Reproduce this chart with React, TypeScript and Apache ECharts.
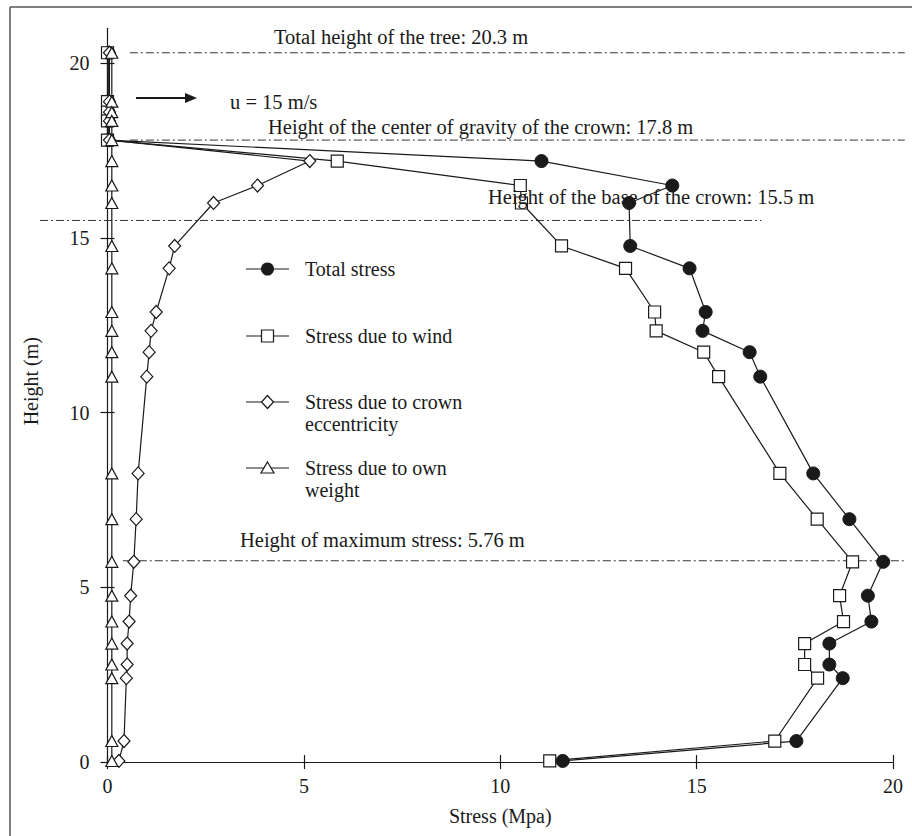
import { useEffect, useRef } from "react";
import * as echarts from "echarts";

// Heights (m) along the stem at which stresses were evaluated
const heights = [20.3, 18.9, 18.6, 18.35, 17.8, 17.2, 16.5, 16.0, 14.77, 14.13, 12.88, 12.34, 11.73, 11.03, 8.26, 6.95, 5.73, 4.76, 4.02, 3.39, 2.79, 2.4, 0.6, 0.03];

// Stress values (MPa) at each height
const totalStress = [0.02, 0.02, 0.02, 0.02, 0.02, 11.05, 14.38, 13.28, 13.31, 14.82, 15.23, 15.15, 16.35, 16.62, 17.97, 18.89, 19.75, 19.36, 19.45, 18.38, 18.38, 18.72, 17.54, 11.59];
const windStress = [0.0, 0.0, 0.0, 0.0, 0.0, 5.85, 10.51, 10.54, 11.56, 13.19, 13.93, 13.97, 15.18, 15.56, 17.12, 18.07, 18.97, 18.64, 18.74, 17.75, 17.75, 18.08, 16.99, 11.26];
const eccentricityStress = [0.05, 0.05, 0.05, 0.05, 0.05, 5.15, 3.82, 2.7, 1.71, 1.57, 1.24, 1.11, 1.06, 1.0, 0.78, 0.73, 0.67, 0.59, 0.55, 0.5, 0.5, 0.48, 0.42, 0.29];
const ownWeightStress = [0.11, 0.11, 0.11, 0.11, 0.11, 0.11, 0.11, 0.11, 0.11, 0.11, 0.11, 0.11, 0.11, 0.11, 0.11, 0.11, 0.11, 0.11, 0.11, 0.11, 0.11, 0.11, 0.11, 0.11];

const seriesNames = [
  "Total stress",
  "Stress due to wind",
  "Stress due to crown\neccentricity",
  "Stress due to own\nweight",
];

// Reference heights (m) marked with dash-dot lines
const treeHeight = 20.3;
const crownGravityHeight = 17.8;
const crownBaseHeight = 15.5;
const maxStressHeight = 5.76;
const windSpeed = 15;

const xTicks = [0, 5, 10, 15, 20];
const yTicks = [0, 5, 10, 15, 20];
const xAxisTitle = "Stress (Mpa)";
const yAxisTitle = "Height (m)";

const FONT = "Liberation Serif";
const INK = "#1a1a1a";

function pts(xs: number[]) {
  return xs.map((x, i) => [x, heights[i]]);
}

export default function App() {
  const ref = useRef<HTMLDivElement>(null);

  useEffect(() => {
    if (!ref.current) return;
    const chart = echarts.init(ref.current, null, { renderer: "svg" });

    const baseSeries = {
      type: "line" as const,
      clip: false,
      lineStyle: { color: INK, width: 1.2 },
      itemStyle: { color: "#fff", borderColor: INK, borderWidth: 1.2 },
    };
    const tick = { length: 7, lineStyle: { color: INK, width: 1.2 } };

    chart.setOption({
      animation: false,
      backgroundColor: "#fff",
      grid: { left: 107.5, right: 19, top: 28.3, bottom: 74 },
      xAxis: [
        {
          type: "value",
          position: "bottom",
          min: xTicks[0],
          max: xTicks[xTicks.length - 1],
          interval: 5,
          axisLine: { lineStyle: { color: INK, width: 1.2 } },
          axisTick: tick,
          axisLabel: { show: false },
          splitLine: { show: false },
        },
        {
          // inward half of the crossing ticks
          type: "value",
          position: "bottom",
          min: xTicks[0],
          max: xTicks[xTicks.length - 1],
          interval: 5,
          axisLine: { show: false },
          axisTick: { ...tick, inside: true },
          axisLabel: { show: false },
          splitLine: { show: false },
        },
      ],
      yAxis: [
        {
          type: "value",
          position: "left",
          min: yTicks[0],
          max: 21,
          interval: 5,
          axisLine: { lineStyle: { color: INK, width: 1.2 } },
          axisTick: { ...tick, customValues: yTicks },
          axisLabel: { show: false },
          splitLine: { show: false },
        },
        {
          type: "value",
          position: "left",
          min: yTicks[0],
          max: 21,
          interval: 5,
          axisLine: { show: false },
          axisTick: { ...tick, inside: true, customValues: yTicks },
          axisLabel: { show: false },
          splitLine: { show: false },
        },
      ],
      series: [
        {
          ...baseSeries,
          name: seriesNames[0],
          data: pts(totalStress),
          symbol: "circle",
          symbolSize: 13,
          itemStyle: { color: INK, borderColor: INK, borderWidth: 1 },
          z: 2,
        },
        {
          ...baseSeries,
          name: seriesNames[1],
          data: pts(windStress),
          symbol: "rect",
          symbolSize: 12,
          z: 3,
        },
        {
          ...baseSeries,
          name: seriesNames[2],
          data: pts(eccentricityStress),
          symbol: "diamond",
          symbolSize: [12, 13],
          z: 4,
        },
        {
          ...baseSeries,
          name: seriesNames[3],
          data: pts(ownWeightStress),
          symbol: "triangle",
          symbolSize: [12, 11],
          z: 5,
        },
      ],
    });

    const px = (x: number) => chart.convertToPixel({ xAxisIndex: 0 }, x) as number;
    const py = (y: number) => chart.convertToPixel({ yAxisIndex: 0 }, y) as number;

    const textStyle = (text: string, extra: any = {}) => ({
      text,
      fill: INK,
      fontSize: 20,
      fontFamily: FONT,
      verticalAlign: "middle",
      align: "left",
      ...extra,
    });

    // Tick labels and axis titles, placed through the axis scales
    const axisTexts: any[] = [
      ...xTicks.map((v) => ({
        type: "text",
        x: px(v),
        y: py(0) + 24,
        style: textStyle(String(v), { align: "center" }),
      })),
      ...yTicks.map((v) => ({
        type: "text",
        x: px(0) - 18,
        y: py(v),
        style: textStyle(String(v), { align: "right" }),
      })),
      {
        type: "text",
        x: px(10),
        y: py(0) + 54,
        style: textStyle(xAxisTitle, { align: "center" }),
      },
      {
        type: "text",
        x: 31,
        y: py(10.9),
        rotation: Math.PI / 2,
        style: textStyle(yAxisTitle, { align: "center" }),
      },
    ];

    const dashStyle = { stroke: "#333", lineWidth: 1, lineDash: [8, 3, 2, 3] };
    const refLine = (h: number, x1: number, x2: number) => ({
      type: "line",
      shape: { x1: px(x1), y1: py(h), x2: px(x2), y2: py(h) },
      style: dashStyle,
      z: 1,
    });
    const label = (text: string, x: number, y: number) => ({
      type: "text",
      x,
      y,
      style: textStyle(text, { fontSize: 20.5 }),
      z: 6,
    });

    // Legend: line with symbol, name on the right
    const legX1 = 246;
    const legX2 = 289;
    const legMid = (legX1 + legX2) / 2;
    const legTextX = 305;
    const legRows = [269, 336, 402, 468];
    const legStroke = { stroke: INK, lineWidth: 1.2 };
    const legendEls: any[] = [];
    legRows.forEach((y, i) => {
      legendEls.push({ type: "line", shape: { x1: legX1, y1: y, x2: legX2, y2: y }, style: legStroke, z: 5 });
      if (i === 0) {
        legendEls.push({ type: "circle", shape: { cx: legMid, cy: y, r: 6.5 }, style: { fill: INK }, z: 6 });
      } else if (i === 1) {
        legendEls.push({ type: "rect", shape: { x: legMid - 6, y: y - 6, width: 12, height: 12 }, style: { fill: "#fff", ...legStroke }, z: 6 });
      } else if (i === 2) {
        legendEls.push({
          type: "polygon",
          shape: { points: [[legMid, y - 6.5], [legMid + 6, y], [legMid, y + 6.5], [legMid - 6, y]] },
          style: { fill: "#fff", ...legStroke },
          z: 6,
        });
      } else {
        legendEls.push({
          type: "polygon",
          shape: { points: [[legMid, y - 6], [legMid + 6.5, y + 5], [legMid - 6.5, y + 5]] },
          style: { fill: "#fff", ...legStroke },
          z: 6,
        });
      }
      legendEls.push({
        type: "text",
        x: legTextX,
        y: y - 11,
        style: textStyle(seriesNames[i], { lineHeight: 22, verticalAlign: "top" }),
        z: 6,
      });
    });

    chart.setOption({
      graphic: [
        // figure frame
        { type: "line", shape: { x1: 10, y1: 7, x2: 912, y2: 7 }, style: { stroke: "#555", lineWidth: 1.5 } },
        { type: "line", shape: { x1: 10, y1: 7, x2: 10, y2: 836 }, style: { stroke: "#555", lineWidth: 1.5 } },
        ...axisTexts,
        refLine(treeHeight, 0.57, 20.3),
        refLine(crownGravityHeight, 0.57, 20.3),
        refLine(crownBaseHeight, -1.72, 16.65),
        refLine(maxStressHeight, 0.39, 20.3),
        label(`Total height of the tree: ${treeHeight} m`, 274, 37),
        label(`u = ${windSpeed} m/s`, 230, 102),
        label(`Height of the center of gravity of the crown: ${crownGravityHeight} m`, 268, 127),
        label(`Height of the base of the crown: ${crownBaseHeight} m`, 488, 197),
        label(`Height of maximum stress: ${maxStressHeight} m`, 240, 540),
        // wind direction arrow
        { type: "line", shape: { x1: 136, y1: 98, x2: 188, y2: 98 }, style: { stroke: INK, lineWidth: 2 }, z: 5 },
        { type: "polygon", shape: { points: [[185, 93], [197, 98], [185, 103]] }, style: { fill: INK }, z: 5 },
        ...legendEls,
      ],
    });

    return () => chart.dispose();
  }, []);

  return <div ref={ref} style={{ width: 912, height: 836, position: "absolute", left: 0, top: 0 }} />;
}
